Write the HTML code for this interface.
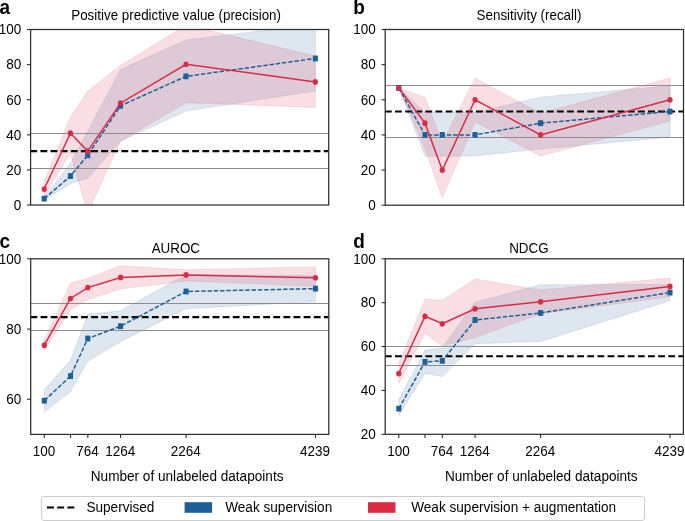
<!DOCTYPE html>
<html><head><meta charset="utf-8"><style>
html,body{margin:0;padding:0;background:#fff;}
body{width:685px;height:521px;overflow:hidden;}
svg{display:block;will-change:transform;}
.t{font-family:"Liberation Sans",sans-serif;font-size:13.4px;fill:#000;}
.lb{font-family:"Liberation Sans",sans-serif;font-size:19px;font-weight:bold;fill:#000;}
</style></head><body>
<svg width="685" height="521" viewBox="0 0 685 521">
<rect width="685" height="521" fill="#fff"/>
<defs><clipPath id="clipa"><rect x="30.6" y="29.5" width="298.1" height="175.5"/></clipPath><clipPath id="clipb"><rect x="385.2" y="29.5" width="298.3" height="175.7"/></clipPath><clipPath id="clipc"><rect x="30.7" y="258.8" width="298.1" height="175.6"/></clipPath><clipPath id="clipd"><rect x="385.2" y="258.8" width="298.2" height="175.5"/></clipPath></defs>
<g clip-path="url(#clipa)">
<polygon points="44.2,196.75 70.41,163.23 87.71,131.47 120.47,69.51 185.99,40.03 315.39,24.23 315.39,90.92 185.99,111.11 120.47,141.29 87.71,178.15 70.41,183.59 44.2,200.61" fill="#1f5f98" fill-opacity="0.15" stroke="#1f5f98" stroke-opacity="0.15" stroke-width="0.8"/>
<polygon points="44.2,181.83 70.41,117.07 87.71,91.1 120.47,65.48 185.99,24.94 315.39,56 315.39,107.42 185.99,102.68 120.47,141.29 87.71,212.9 70.41,153.23 44.2,196.22" fill="#da2b44" fill-opacity="0.15" stroke="#da2b44" stroke-opacity="0.15" stroke-width="0.8"/>
<line x1="30.6" x2="328.7" y1="168.5" y2="168.5" stroke="#8c8c8c" stroke-width="1"/>
<line x1="30.6" x2="328.7" y1="133.5" y2="133.5" stroke="#8c8c8c" stroke-width="1"/>
<line x1="30.3" x2="328.7" y1="151.12" y2="151.12" stroke="#000" stroke-width="2.1" stroke-dasharray="6.85 3.27"/>
<polyline points="44.2,198.68 70.41,176.04 87.71,155.33 120.47,105.84 185.99,76.36 315.39,58.46" fill="none" stroke="#1f5f98" stroke-width="1.5" stroke-dasharray="4.4 1.9"/>
<polyline points="44.2,189.03 70.41,133.22 87.71,151.12 120.47,103.21 185.99,64.25 315.39,81.97" fill="none" stroke="#da2b44" stroke-width="1.5"/>
</g>
<rect x="41.65" y="195.78" width="5.1" height="5.8" fill="#1f5f98"/>
<rect x="67.86" y="173.14" width="5.1" height="5.8" fill="#1f5f98"/>
<rect x="85.16" y="152.43" width="5.1" height="5.8" fill="#1f5f98"/>
<rect x="117.92" y="102.94" width="5.1" height="5.8" fill="#1f5f98"/>
<rect x="183.44" y="73.46" width="5.1" height="5.8" fill="#1f5f98"/>
<rect x="312.84" y="55.56" width="5.1" height="5.8" fill="#1f5f98"/>
<ellipse cx="44.2" cy="189.03" rx="2.6" ry="2.85" fill="#da2b44"/>
<ellipse cx="70.41" cy="133.22" rx="2.6" ry="2.85" fill="#da2b44"/>
<ellipse cx="87.71" cy="151.12" rx="2.6" ry="2.85" fill="#da2b44"/>
<ellipse cx="120.47" cy="103.21" rx="2.6" ry="2.85" fill="#da2b44"/>
<ellipse cx="185.99" cy="64.25" rx="2.6" ry="2.85" fill="#da2b44"/>
<ellipse cx="315.39" cy="81.97" rx="2.6" ry="2.85" fill="#da2b44"/>
<rect x="30.6" y="29.5" width="298.1" height="175.5" fill="none" stroke="#2e2e2e" stroke-width="1.25"/>
<line x1="27" x2="30.6" y1="205" y2="205" stroke="#2e2e2e" stroke-width="1.1"/>
<text transform="translate(21.2,209.8) scale(1,1.09)" text-anchor="end" class="t" style="font-size:13.5px">0</text>
<line x1="27" x2="30.6" y1="169.9" y2="169.9" stroke="#2e2e2e" stroke-width="1.1"/>
<text transform="translate(21.2,174.7) scale(1,1.09)" text-anchor="end" class="t" style="font-size:13.5px">20</text>
<line x1="27" x2="30.6" y1="134.8" y2="134.8" stroke="#2e2e2e" stroke-width="1.1"/>
<text transform="translate(21.2,139.6) scale(1,1.09)" text-anchor="end" class="t" style="font-size:13.5px">40</text>
<line x1="27" x2="30.6" y1="99.7" y2="99.7" stroke="#2e2e2e" stroke-width="1.1"/>
<text transform="translate(21.2,104.5) scale(1,1.09)" text-anchor="end" class="t" style="font-size:13.5px">60</text>
<line x1="27" x2="30.6" y1="64.6" y2="64.6" stroke="#2e2e2e" stroke-width="1.1"/>
<text transform="translate(21.2,69.4) scale(1,1.09)" text-anchor="end" class="t" style="font-size:13.5px">80</text>
<line x1="27" x2="30.6" y1="29.5" y2="29.5" stroke="#2e2e2e" stroke-width="1.1"/>
<text transform="translate(21.2,34.3) scale(1,1.09)" text-anchor="end" class="t" style="font-size:13.5px">100</text>
<text transform="translate(176.1,19.9) scale(1,1.09)" text-anchor="middle" class="t">Positive predictive value (precision)</text>
<text transform="translate(-0.6,14) scale(1,1.03)" class="lb">a</text>
<g clip-path="url(#clipb)">
<polygon points="398.8,88.01 425.01,112.43 442.31,112.43 475.07,112.78 540.59,96.97 669.99,85.9 669.99,137.2 540.59,148.98 475.07,156 442.31,156.18 425.01,156.18 398.8,88.01" fill="#1f5f98" fill-opacity="0.15" stroke="#1f5f98" stroke-opacity="0.15" stroke-width="0.8"/>
<polygon points="398.8,88.01 425.01,97.5 442.31,142.48 475.07,78.17 540.59,113.31 669.99,77.99 669.99,121.04 540.59,156 475.07,121.92 442.31,197.64 425.01,148.8 398.8,88.01" fill="#da2b44" fill-opacity="0.15" stroke="#da2b44" stroke-opacity="0.15" stroke-width="0.8"/>
<line x1="385.2" x2="683.5" y1="137.5" y2="137.5" stroke="#8c8c8c" stroke-width="1"/>
<line x1="385.2" x2="683.5" y1="85.5" y2="85.5" stroke="#8c8c8c" stroke-width="1"/>
<line x1="384.9" x2="683.5" y1="111.55" y2="111.55" stroke="#000" stroke-width="2.1" stroke-dasharray="6.85 3.27"/>
<polyline points="398.8,88.01 425.01,134.92 442.31,134.92 475.07,134.92 540.59,123.15 669.99,111.55" fill="none" stroke="#1f5f98" stroke-width="1.5" stroke-dasharray="4.4 1.9"/>
<polyline points="398.8,88.01 425.01,123.15 442.31,170.06 475.07,99.78 540.59,134.92 669.99,99.78" fill="none" stroke="#da2b44" stroke-width="1.5"/>
</g>
<rect x="396.25" y="85.11" width="5.1" height="5.8" fill="#1f5f98"/>
<rect x="422.46" y="132.02" width="5.1" height="5.8" fill="#1f5f98"/>
<rect x="439.76" y="132.02" width="5.1" height="5.8" fill="#1f5f98"/>
<rect x="472.52" y="132.02" width="5.1" height="5.8" fill="#1f5f98"/>
<rect x="538.04" y="120.25" width="5.1" height="5.8" fill="#1f5f98"/>
<rect x="667.44" y="108.65" width="5.1" height="5.8" fill="#1f5f98"/>
<ellipse cx="398.8" cy="88.01" rx="2.6" ry="2.85" fill="#da2b44"/>
<ellipse cx="425.01" cy="123.15" rx="2.6" ry="2.85" fill="#da2b44"/>
<ellipse cx="442.31" cy="170.06" rx="2.6" ry="2.85" fill="#da2b44"/>
<ellipse cx="475.07" cy="99.78" rx="2.6" ry="2.85" fill="#da2b44"/>
<ellipse cx="540.59" cy="134.92" rx="2.6" ry="2.85" fill="#da2b44"/>
<ellipse cx="669.99" cy="99.78" rx="2.6" ry="2.85" fill="#da2b44"/>
<rect x="385.2" y="29.5" width="298.3" height="175.7" fill="none" stroke="#2e2e2e" stroke-width="1.25"/>
<line x1="381.6" x2="385.2" y1="205.2" y2="205.2" stroke="#2e2e2e" stroke-width="1.1"/>
<text transform="translate(375.8,210) scale(1,1.09)" text-anchor="end" class="t" style="font-size:13.5px">0</text>
<line x1="381.6" x2="385.2" y1="170.06" y2="170.06" stroke="#2e2e2e" stroke-width="1.1"/>
<text transform="translate(375.8,174.86) scale(1,1.09)" text-anchor="end" class="t" style="font-size:13.5px">20</text>
<line x1="381.6" x2="385.2" y1="134.92" y2="134.92" stroke="#2e2e2e" stroke-width="1.1"/>
<text transform="translate(375.8,139.72) scale(1,1.09)" text-anchor="end" class="t" style="font-size:13.5px">40</text>
<line x1="381.6" x2="385.2" y1="99.78" y2="99.78" stroke="#2e2e2e" stroke-width="1.1"/>
<text transform="translate(375.8,104.58) scale(1,1.09)" text-anchor="end" class="t" style="font-size:13.5px">60</text>
<line x1="381.6" x2="385.2" y1="64.64" y2="64.64" stroke="#2e2e2e" stroke-width="1.1"/>
<text transform="translate(375.8,69.44) scale(1,1.09)" text-anchor="end" class="t" style="font-size:13.5px">80</text>
<line x1="381.6" x2="385.2" y1="29.5" y2="29.5" stroke="#2e2e2e" stroke-width="1.1"/>
<text transform="translate(375.8,34.3) scale(1,1.09)" text-anchor="end" class="t" style="font-size:13.5px">100</text>
<text transform="translate(529,19.9) scale(1,1.09)" text-anchor="middle" class="t">Sensitivity (recall)</text>
<text transform="translate(353.2,14) scale(1,1.03)" class="lb">b</text>
<g clip-path="url(#clipc)">
<polygon points="44.3,389.45 70.51,360.3 87.81,314.29 120.57,310.78 186.09,274.6 315.49,275.66 315.49,301.65 186.09,308.67 120.57,341.68 87.81,361.35 70.51,391.55 44.3,411.92" fill="#1f5f98" fill-opacity="0.15" stroke="#1f5f98" stroke-opacity="0.15" stroke-width="0.8"/>
<polygon points="44.3,339.93 70.51,283.03 87.81,278.47 120.57,265.82 186.09,269.69 315.49,266.88 315.49,286.19 186.09,280.93 120.57,289 87.81,299.54 70.51,309.72 44.3,350.46" fill="#da2b44" fill-opacity="0.15" stroke="#da2b44" stroke-opacity="0.15" stroke-width="0.8"/>
<line x1="30.7" x2="328.8" y1="330.5" y2="330.5" stroke="#8c8c8c" stroke-width="1"/>
<line x1="30.7" x2="328.8" y1="303.5" y2="303.5" stroke="#8c8c8c" stroke-width="1"/>
<line x1="30.4" x2="328.8" y1="317.1" y2="317.1" stroke="#000" stroke-width="2.1" stroke-dasharray="6.85 3.27"/>
<polyline points="44.3,400.68 70.51,376.1 87.81,338.52 120.57,326.23 186.09,291.46 315.49,288.65" fill="none" stroke="#1f5f98" stroke-width="1.5" stroke-dasharray="4.4 1.9"/>
<polyline points="44.3,345.2 70.51,298.49 87.81,287.6 120.57,277.41 186.09,274.96 315.49,277.76" fill="none" stroke="#da2b44" stroke-width="1.5"/>
</g>
<rect x="41.75" y="397.78" width="5.1" height="5.8" fill="#1f5f98"/>
<rect x="67.96" y="373.2" width="5.1" height="5.8" fill="#1f5f98"/>
<rect x="85.26" y="335.62" width="5.1" height="5.8" fill="#1f5f98"/>
<rect x="118.02" y="323.33" width="5.1" height="5.8" fill="#1f5f98"/>
<rect x="183.54" y="288.56" width="5.1" height="5.8" fill="#1f5f98"/>
<rect x="312.94" y="285.75" width="5.1" height="5.8" fill="#1f5f98"/>
<ellipse cx="44.3" cy="345.2" rx="2.6" ry="2.85" fill="#da2b44"/>
<ellipse cx="70.51" cy="298.49" rx="2.6" ry="2.85" fill="#da2b44"/>
<ellipse cx="87.81" cy="287.6" rx="2.6" ry="2.85" fill="#da2b44"/>
<ellipse cx="120.57" cy="277.41" rx="2.6" ry="2.85" fill="#da2b44"/>
<ellipse cx="186.09" cy="274.96" rx="2.6" ry="2.85" fill="#da2b44"/>
<ellipse cx="315.49" cy="277.76" rx="2.6" ry="2.85" fill="#da2b44"/>
<rect x="30.7" y="258.8" width="298.1" height="175.6" fill="none" stroke="#2e2e2e" stroke-width="1.25"/>
<line x1="27.1" x2="30.7" y1="399.28" y2="399.28" stroke="#2e2e2e" stroke-width="1.1"/>
<text transform="translate(21.3,404.08) scale(1,1.09)" text-anchor="end" class="t" style="font-size:13.5px">60</text>
<line x1="27.1" x2="30.7" y1="329.04" y2="329.04" stroke="#2e2e2e" stroke-width="1.1"/>
<text transform="translate(21.3,333.84) scale(1,1.09)" text-anchor="end" class="t" style="font-size:13.5px">80</text>
<line x1="27.1" x2="30.7" y1="258.8" y2="258.8" stroke="#2e2e2e" stroke-width="1.1"/>
<text transform="translate(21.3,263.6) scale(1,1.09)" text-anchor="end" class="t" style="font-size:13.5px">100</text>
<line x1="44.3" x2="44.3" y1="434.4" y2="438" stroke="#2e2e2e" stroke-width="1.1"/>
<text transform="translate(43.9,455.8) scale(1,1.09)" text-anchor="middle" class="t" style="font-size:13.5px">100</text>
<line x1="70.51" x2="70.51" y1="434.4" y2="438" stroke="#2e2e2e" stroke-width="1.1"/>
<line x1="87.81" x2="87.81" y1="434.4" y2="438" stroke="#2e2e2e" stroke-width="1.1"/>
<text transform="translate(87.41,455.8) scale(1,1.09)" text-anchor="middle" class="t" style="font-size:13.5px">764</text>
<line x1="120.57" x2="120.57" y1="434.4" y2="438" stroke="#2e2e2e" stroke-width="1.1"/>
<text transform="translate(120.17,455.8) scale(1,1.09)" text-anchor="middle" class="t" style="font-size:13.5px">1264</text>
<line x1="186.09" x2="186.09" y1="434.4" y2="438" stroke="#2e2e2e" stroke-width="1.1"/>
<text transform="translate(185.69,455.8) scale(1,1.09)" text-anchor="middle" class="t" style="font-size:13.5px">2264</text>
<line x1="315.49" x2="315.49" y1="434.4" y2="438" stroke="#2e2e2e" stroke-width="1.1"/>
<text transform="translate(315.09,455.8) scale(1,1.09)" text-anchor="middle" class="t" style="font-size:13.5px">4239</text>
<text transform="translate(187.1,480.7) scale(1,1.09)" text-anchor="middle" class="t" style="font-size:13.6px">Number of unlabeled datapoints</text>
<text transform="translate(175.8,252.6) scale(1,1.09)" text-anchor="middle" class="t">AUROC</text>
<text transform="translate(-0.6,247.9) scale(1,1.03)" class="lb">c</text>
<g clip-path="url(#clipd)">
<polygon points="398.8,399.42 425.01,350.06 442.31,348.09 475.07,302.24 540.59,284.69 669.99,284.47 669.99,300.7 540.59,341.5 475.07,343.7 442.31,376.6 425.01,373.53 398.8,415.43" fill="#1f5f98" fill-opacity="0.15" stroke="#1f5f98" stroke-opacity="0.15" stroke-width="0.8"/>
<polygon points="398.8,363.44 425.01,299.17 442.31,300.26 475.07,278.98 540.59,289.95 669.99,278.11 669.99,296.75 540.59,313.64 475.07,337.56 442.31,346.11 425.01,333.61 398.8,383.62" fill="#da2b44" fill-opacity="0.15" stroke="#da2b44" stroke-opacity="0.15" stroke-width="0.8"/>
<line x1="385.2" x2="683.4" y1="365.5" y2="365.5" stroke="#8c8c8c" stroke-width="1"/>
<line x1="385.2" x2="683.4" y1="346.5" y2="346.5" stroke="#8c8c8c" stroke-width="1"/>
<line x1="384.9" x2="683.4" y1="356.2" y2="356.2" stroke="#000" stroke-width="2.1" stroke-dasharray="6.85 3.27"/>
<polyline points="398.8,408.63 425.01,361.91 442.31,360.81 475.07,320.01 540.59,312.99 669.99,292.58" fill="none" stroke="#1f5f98" stroke-width="1.5" stroke-dasharray="4.4 1.9"/>
<polyline points="398.8,373.53 425.01,316.28 442.31,323.74 475.07,308.82 540.59,301.8 669.99,286.44" fill="none" stroke="#da2b44" stroke-width="1.5"/>
</g>
<rect x="396.25" y="405.73" width="5.1" height="5.8" fill="#1f5f98"/>
<rect x="422.46" y="359.01" width="5.1" height="5.8" fill="#1f5f98"/>
<rect x="439.76" y="357.91" width="5.1" height="5.8" fill="#1f5f98"/>
<rect x="472.52" y="317.11" width="5.1" height="5.8" fill="#1f5f98"/>
<rect x="538.04" y="310.09" width="5.1" height="5.8" fill="#1f5f98"/>
<rect x="667.44" y="289.68" width="5.1" height="5.8" fill="#1f5f98"/>
<ellipse cx="398.8" cy="373.53" rx="2.6" ry="2.85" fill="#da2b44"/>
<ellipse cx="425.01" cy="316.28" rx="2.6" ry="2.85" fill="#da2b44"/>
<ellipse cx="442.31" cy="323.74" rx="2.6" ry="2.85" fill="#da2b44"/>
<ellipse cx="475.07" cy="308.82" rx="2.6" ry="2.85" fill="#da2b44"/>
<ellipse cx="540.59" cy="301.8" rx="2.6" ry="2.85" fill="#da2b44"/>
<ellipse cx="669.99" cy="286.44" rx="2.6" ry="2.85" fill="#da2b44"/>
<rect x="385.2" y="258.8" width="298.2" height="175.5" fill="none" stroke="#2e2e2e" stroke-width="1.25"/>
<line x1="381.6" x2="385.2" y1="434.3" y2="434.3" stroke="#2e2e2e" stroke-width="1.1"/>
<text transform="translate(375.8,439.1) scale(1,1.09)" text-anchor="end" class="t" style="font-size:13.5px">20</text>
<line x1="381.6" x2="385.2" y1="390.43" y2="390.43" stroke="#2e2e2e" stroke-width="1.1"/>
<text transform="translate(375.8,395.23) scale(1,1.09)" text-anchor="end" class="t" style="font-size:13.5px">40</text>
<line x1="381.6" x2="385.2" y1="346.55" y2="346.55" stroke="#2e2e2e" stroke-width="1.1"/>
<text transform="translate(375.8,351.35) scale(1,1.09)" text-anchor="end" class="t" style="font-size:13.5px">60</text>
<line x1="381.6" x2="385.2" y1="302.68" y2="302.68" stroke="#2e2e2e" stroke-width="1.1"/>
<text transform="translate(375.8,307.48) scale(1,1.09)" text-anchor="end" class="t" style="font-size:13.5px">80</text>
<line x1="381.6" x2="385.2" y1="258.8" y2="258.8" stroke="#2e2e2e" stroke-width="1.1"/>
<text transform="translate(375.8,263.6) scale(1,1.09)" text-anchor="end" class="t" style="font-size:13.5px">100</text>
<line x1="398.8" x2="398.8" y1="434.3" y2="437.9" stroke="#2e2e2e" stroke-width="1.1"/>
<text transform="translate(398.4,455.8) scale(1,1.09)" text-anchor="middle" class="t" style="font-size:13.5px">100</text>
<line x1="425.01" x2="425.01" y1="434.3" y2="437.9" stroke="#2e2e2e" stroke-width="1.1"/>
<line x1="442.31" x2="442.31" y1="434.3" y2="437.9" stroke="#2e2e2e" stroke-width="1.1"/>
<text transform="translate(441.91,455.8) scale(1,1.09)" text-anchor="middle" class="t" style="font-size:13.5px">764</text>
<line x1="475.07" x2="475.07" y1="434.3" y2="437.9" stroke="#2e2e2e" stroke-width="1.1"/>
<text transform="translate(474.67,455.8) scale(1,1.09)" text-anchor="middle" class="t" style="font-size:13.5px">1264</text>
<line x1="540.59" x2="540.59" y1="434.3" y2="437.9" stroke="#2e2e2e" stroke-width="1.1"/>
<text transform="translate(540.19,455.8) scale(1,1.09)" text-anchor="middle" class="t" style="font-size:13.5px">2264</text>
<line x1="669.99" x2="669.99" y1="434.3" y2="437.9" stroke="#2e2e2e" stroke-width="1.1"/>
<text transform="translate(669.59,455.8) scale(1,1.09)" text-anchor="middle" class="t" style="font-size:13.5px">4239</text>
<text transform="translate(541.3,480.7) scale(1,1.09)" text-anchor="middle" class="t" style="font-size:13.6px">Number of unlabeled datapoints</text>
<text transform="translate(528.9,252.6) scale(1,1.09)" text-anchor="middle" class="t">NDCG</text>
<text transform="translate(353.2,247.9) scale(1,1.03)" class="lb">d</text>
<rect x="41.5" y="496.5" width="603" height="24" rx="2.6" fill="#fff" stroke="#cccccc" stroke-width="1"/>
<line x1="47" x2="74.3" y1="507.5" y2="507.5" stroke="#000" stroke-width="2.1" stroke-dasharray="6.9 3.3"/>
<text transform="translate(86.4,512.3) scale(1,1.09)" class="t" style="font-size:13.6px">Supervised</text>
<rect x="184.6" y="502.2" width="27.5" height="10.6" fill="#1f5f98"/>
<text transform="translate(225.2,512.3) scale(1,1.09)" class="t" style="font-size:13.6px">Weak supervision</text>
<rect x="368" y="502.2" width="27.5" height="10.6" fill="#da2b44"/>
<text transform="translate(411.2,512.3) scale(1,1.09)" class="t" style="font-size:13.6px">Weak supervision + augmentation</text>
</svg>
</body></html>
